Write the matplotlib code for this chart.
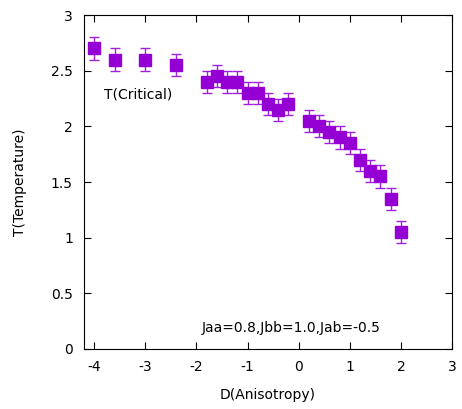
import numpy as np
import matplotlib
matplotlib.use("Agg")
import matplotlib.pyplot as plt

# critical temperature vs anisotropy
D = [-4.0, -3.6, -3.0, -2.4, -1.8, -1.6, -1.4, -1.2, -1.0, -0.8, -0.6, -0.4, -0.2,
     0.2, 0.4, 0.6, 0.8, 1.0, 1.2, 1.4, 1.6, 1.8, 2.0]
Tc = [2.7, 2.6, 2.6, 2.55, 2.4, 2.45, 2.4, 2.4, 2.3, 2.3, 2.2, 2.15, 2.2,
      2.05, 2.0, 1.95, 1.9, 1.85, 1.7, 1.6, 1.55, 1.35, 1.05]
err = [0.1] * len(D)

xticks = [-4, -3, -2, -1, 0, 1, 2, 3]
yticks = [0, 0.5, 1, 1.5, 2, 2.5, 3]
ytick_labels = ['0', '0.5', '1', '1.5', '2', '2.5', '3']

col = '#9400d3'

fig = plt.figure(figsize=(4.62, 4.09), dpi=100)
ax = fig.add_axes([0.1818, 0.1467, 0.7966, 0.8166])
ax.errorbar(D, Tc, yerr=err, fmt='s', color=col, ecolor='#a020e0',
            markersize=9, capsize=3.5, elinewidth=1, capthick=1)

ax.text(-3.8, 2.29, 'T(Critical)', fontsize=10, va='center', ha='left')
ax.text(-1.9, 0.19, 'Jaa=0.8,Jbb=1.0,Jab=-0.5', fontsize=10, va='center', ha='left')

ax.set_xlim(-4.2, 3)
ax.set_ylim(0, 3)
ax.set_xticks(xticks)
ax.set_xticklabels([str(t) for t in xticks])
ax.set_yticks(yticks)
ax.set_yticklabels(ytick_labels)
ax.tick_params(direction='in', top=True, right=True, length=5, labelsize=10, pad=8)
ax.set_xlabel('D(Anisotropy)', fontsize=10, labelpad=10)
ax.set_ylabel('T(Temperature)', fontsize=10, labelpad=17)

plt.savefig('out.png', dpi=100)
